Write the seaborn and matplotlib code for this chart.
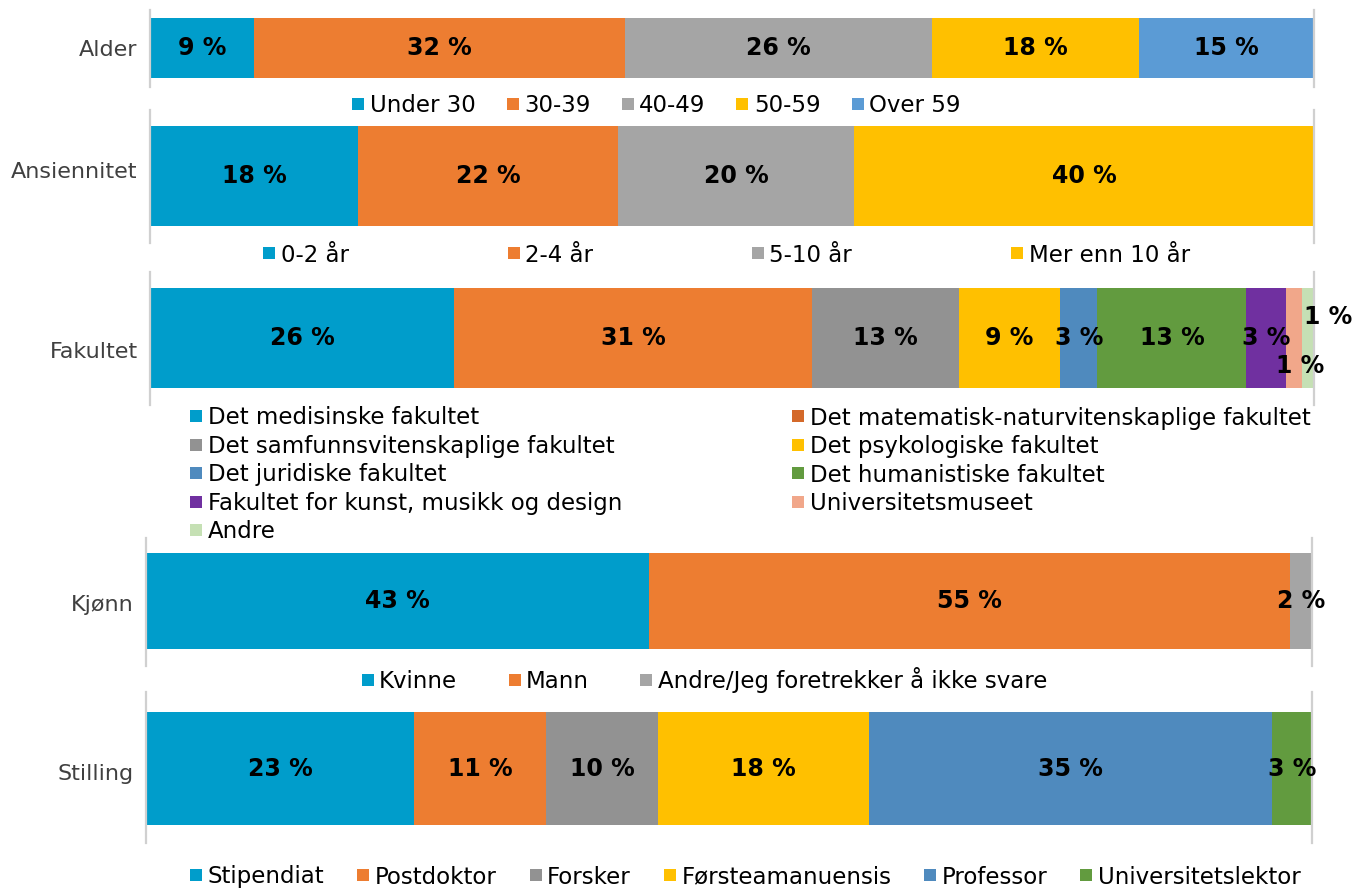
import numpy as np
import matplotlib
matplotlib.use("Agg")
import matplotlib.pyplot as plt
from matplotlib.lines import Line2D
import seaborn as sns

sns.set_style("white")
plt.rcParams['font.family'] = ['DejaVu Sans']

# Share of respondents (%) per background variable
alder_labels = ["Under 30", "30-39", "40-49", "50-59", "Over 59"]
alder_values = [8.9, 31.9, 26.4, 17.8, 15.0]

ans_labels = ["0-2 år", "2-4 år", "5-10 år", "Mer enn 10 år"]
ans_values = [17.9, 22.3, 20.3, 39.5]

fak_labels = ["Det medisinske fakultet", "Det matematisk-naturvitenskaplige fakultet",
              "Det samfunnsvitenskaplige fakultet", "Det psykologiske fakultet",
              "Det juridiske fakultet", "Det humanistiske fakultet",
              "Fakultet for kunst, musikk og design", "Universitetsmuseet", "Andre"]
fak_values = [26.1, 30.8, 12.6, 8.7, 3.2, 12.8, 3.4, 1.4, 1.0]

kjonn_labels = ["Kvinne", "Mann", "Andre/Jeg foretrekker å ikke svare"]
kjonn_values = [43.1, 55.0, 1.9]

stilling_labels = ["Stipendiat", "Postdoktor", "Forsker", "Førsteamanuensis",
                   "Professor", "Universitetslektor"]
stilling_values = [23.0, 11.3, 9.6, 18.1, 34.6, 3.4]

# colours
teal, orange, yellow = "#009DCB", "#ED7D31", "#FFC000"
alder_colors = [teal, orange, "#A5A5A5", yellow, "#5B9BD5"]
ans_colors = [teal, orange, "#A5A5A5", yellow]
fak_colors = [teal, orange, "#929292", yellow, "#4F8ABE", "#629B3F", "#7030A0", "#F1A78A", "#C5E0B4"]
kjonn_colors = [teal, orange, "#A5A5A5"]
stilling_colors = [teal, orange, "#929292", yellow, "#4F8ABE", "#629B3F"]

W, H = 1360, 889
fig = plt.figure(figsize=(W / 100, H / 100), dpi=100)


def draw_panel(name, values, colors, box, bar, label_y, offsets=None):
    # box / bar / label_y are given in figure pixels (y downwards)
    x0, x1, y0, y1 = box
    ax = fig.add_axes([x0 / W, 1 - y1 / H, (x1 - x0) / W, (y1 - y0) / H])
    centre = (bar[0] + bar[1]) / 2
    cum = np.cumsum(values)
    # stacked bars: draw cumulative totals from the longest to the shortest
    for i in range(len(values) - 1, -1, -1):
        sns.barplot(x=[cum[i]], y=[name], color=colors[i], width=(bar[1] - bar[0]) / 100,
                    saturation=1, linewidth=0, errorbar=None, orient='h', ax=ax)
    offsets = offsets or {}
    for i, v in enumerate(values):
        dx, dy = offsets.get(i, (0, 0))
        ax.annotate(f"{v:.0f} %", xy=(cum[i] - v / 2, 0), xytext=(dx, dy),
                    textcoords='offset pixels', ha='center', va='center',
                    fontsize=17, fontweight='bold', color='black', annotation_clip=False)
    ax.set_xlim(0, 100)
    ax.set_ylim(-(y1 - centre) / 100, (centre - y0) / 100)
    ax.set_xticks([])
    ax.set_yticks([(centre - label_y) / 100])
    ax.set_yticklabels([name])
    ax.tick_params(axis='y', length=0, pad=9, labelsize=16, labelcolor='#404040')
    ax.set_xlabel('')
    ax.set_ylabel('')
    for s in ['top', 'bottom']:
        ax.spines[s].set_visible(False)
    for s in ['left', 'right']:
        ax.spines[s].set_color('#D0D0D0')
        ax.spines[s].set_linewidth(1.6)
    return ax


def add_legend(labels, colors, cx, cy, ncol, colspace, order=None, labelspacing=0.5):
    handles = [Line2D([0], [0], marker='s', linestyle='None', markersize=9,
                      markerfacecolor=c, markeredgewidth=0) for c in colors]
    if order is not None:
        handles = [handles[i] for i in order]
        labels = [labels[i] for i in order]
    leg = fig.legend(handles, labels, loc='center', bbox_to_anchor=(cx / W, 1 - cy / H),
                     ncol=ncol, frameon=False, fontsize=16.5, handlelength=0.6,
                     handletextpad=0.2, columnspacing=colspace, labelspacing=labelspacing,
                     borderpad=0)
    for t in leg.get_texts():
        t.set_color('black')


draw_panel("Alder", alder_values, alder_colors, (150, 1314, 10, 87), (18, 78), 48)
add_legend(alder_labels, alder_colors, 656, 106, 5, 1.32)

draw_panel("Ansiennitet", ans_values, ans_colors, (150, 1314, 110, 243), (126, 226), 170)
add_legend(ans_labels, ans_colors, 726, 255, 4, 6.9)

draw_panel("Fakultet", fak_values, fak_colors, (150, 1314, 272, 405), (288, 388), 350,
           offsets={7: (6, -28), 8: (20, 21)})
fak_legend_colors = list(fak_colors)
fak_legend_colors[1] = "#D4692A"
add_legend(fak_labels, fak_legend_colors, 750, 475, 2, 7.4,
           order=[0, 2, 4, 6, 8, 1, 3, 5, 7], labelspacing=0.24)

draw_panel("Kjønn", kjonn_values, kjonn_colors, (146, 1312, 538, 666), (553, 649), 603)
add_legend(kjonn_labels, kjonn_colors, 704, 680, 3, 2.2)

draw_panel("Stilling", stilling_values, stilling_colors, (146, 1312, 692, 843), (712, 825), 772)
add_legend(stilling_labels, stilling_colors, 745, 877, 6, 1.4)

fig.savefig("out.png", dpi=100)
